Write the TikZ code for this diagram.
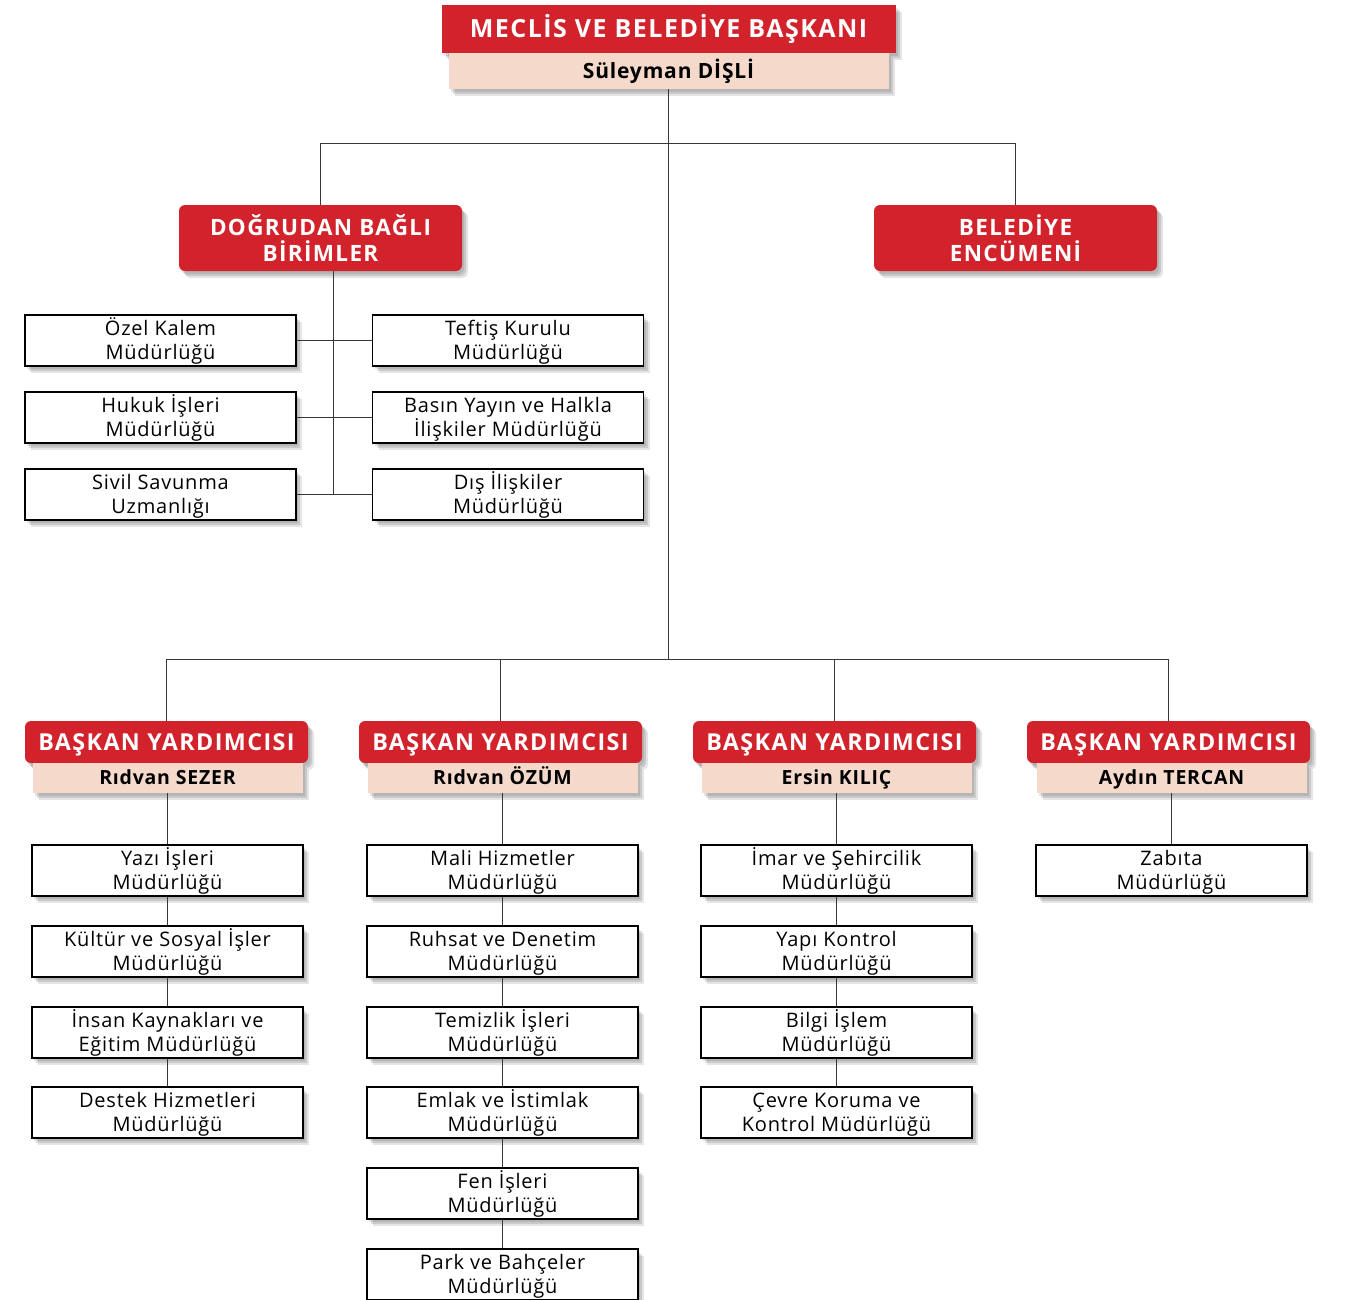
\documentclass[tikz,border=0pt]{standalone}
\usepackage{fontspec}
\setmainfont{Open Sans}[LetterSpace=4]
\usetikzlibrary{shadows}
\definecolor{rd}{RGB}{210,35,44}
\definecolor{pk}{RGB}{245,218,204}
\definecolor{ln}{RGB}{55,55,55}
\newcommand{\fl}{\vphantom{İÇg}}
\begin{document}
\begin{tikzpicture}[x=1pt,y=-1pt,
  shd/.style={
    drop shadow={opacity=0.10,shadow xshift=2pt,shadow yshift=-3pt,fill=black},
    drop shadow={opacity=0.12,shadow xshift=4pt,shadow yshift=-5pt,fill=black},
    drop shadow={opacity=0.10,shadow xshift=6pt,shadow yshift=-7pt,fill=black}},
  bosshead/.style={shd,fill=rd,text=white,inner sep=0pt,font=\fontsize{25}{28}\selectfont\bfseries\addfontfeatures{LetterSpace=6},text height=17.5pt,text depth=0pt,minimum width=454pt,minimum height=48pt},
  bossname/.style={shd,fill=pk,text=black,inner sep=0pt,font=\fontsize{21}{24}\selectfont\bfseries,text height=15pt,text depth=0pt,minimum width=440pt,minimum height=36pt},
  redbox/.style={shd,fill=rd,text=white,inner sep=0pt,rounded corners=6pt,align=center,font=\fontsize{22.5}{26}\selectfont\bfseries\addfontfeatures{LetterSpace=6},minimum width=283pt,minimum height=66pt},
  vphead/.style={shd,fill=rd,text=white,inner sep=0pt,rounded corners=6pt,font=\fontsize{23.3}{26}\selectfont\bfseries\addfontfeatures{LetterSpace=6},text height=16.6pt,text depth=0pt,minimum width=283pt,minimum height=42pt},
  vpname/.style={shd,fill=pk,text=black,inner sep=0pt,font=\fontsize{19.5}{22}\selectfont\bfseries,text height=14pt,text depth=0pt,minimum width=270pt,minimum height=30pt},
  unit/.style={shd,fill=white,draw=black,line width=1.1pt,inner sep=0pt,align=center,font=\fontsize{20}{24}\selectfont,minimum width=271pt,minimum height=51pt},
  conn/.style={draw=ln,line width=1.2pt}
]
\useasboundingbox (0,0) rectangle (1351,1299);

% junction coordinates
\coordinate (j1) at (668.5,143.5);
\coordinate (j2) at (668.5,659.5);
\coordinate (dtop) at (333.5,271);
\coordinate (dbot) at (333.5,494.5);

% top
\node[bosshead] (bossh) at (668.5,29) {MECLİS VE BELEDİYE BAŞKANI};
\node[bossname] (bossn) at (668.5,71) {Süleyman DİŞLİ};

% second level
\node[redbox] (dog) at (320.5,238) {DOĞRUDAN BAĞLI\\BİRİMLER};
\node[redbox] (enc) at (1015.5,238) {BELEDİYE\\ENCÜMENİ};

% directly attached units
\node[unit] (ozel) at (160.5,340.5) {\fl Özel Kalem\\Müdürlüğü};
\node[unit] (hukuk) at (160.5,417.5) {\fl Hukuk İşleri\\Müdürlüğü};
\node[unit] (sivil) at (160.5,494.5) {\fl Sivil Savunma\\Uzmanlığı};
\node[unit] (teftis) at (508,340.5) {\fl Teftiş Kurulu\\Müdürlüğü};
\node[unit] (basin) at (508,417.5) {\fl Basın Yayın ve Halkla\\İlişkiler Müdürlüğü};
\node[unit] (dis) at (508,494.5) {\fl Dış İlişkiler\\Müdürlüğü};

% deputy mayors
\node[vphead] (vp1) at (166.5,742) {BAŞKAN YARDIMCISI};
\node[vpname] (vp1n) at (167.5,777.5) {Rıdvan SEZER};
\node[vphead] (vp2) at (500.5,742) {BAŞKAN YARDIMCISI};
\node[vpname] (vp2n) at (502.5,777.5) {Rıdvan ÖZÜM};
\node[vphead] (vp3) at (834.5,742) {BAŞKAN YARDIMCISI};
\node[vpname] (vp3n) at (836.5,777.5) {Ersin KILIÇ};
\node[vphead] (vp4) at (1168.5,742) {BAŞKAN YARDIMCISI};
\node[vpname] (vp4n) at (1171.5,777.5) {Aydın TERCAN};

% column 1
\node[unit] (a1) at (167.5,870.5) {\fl Yazı İşleri\\Müdürlüğü};
\node[unit] (a2) at (167.5,951.5) {\fl Kültür ve Sosyal İşler\\Müdürlüğü};
\node[unit] (a3) at (167.5,1032.5) {\fl İnsan Kaynakları ve\\Eğitim Müdürlüğü};
\node[unit] (a4) at (167.5,1112.5) {\fl Destek Hizmetleri\\Müdürlüğü};

% column 2
\node[unit] (b1) at (502.5,870.5) {\fl Mali Hizmetler\\Müdürlüğü};
\node[unit] (b2) at (502.5,951.5) {\fl Ruhsat ve Denetim\\Müdürlüğü};
\node[unit] (b3) at (502.5,1032.5) {\fl Temizlik İşleri\\Müdürlüğü};
\node[unit] (b4) at (502.5,1112.5) {\fl Emlak ve İstimlak\\Müdürlüğü};
\node[unit] (b5) at (502.5,1193.5) {\fl Fen İşleri\\Müdürlüğü};
\node[unit] (b6) at (502.5,1274.5) {\fl Park ve Bahçeler\\Müdürlüğü};

% column 3
\node[unit] (c1) at (836.5,870.5) {\fl İmar ve Şehircilik\\Müdürlüğü};
\node[unit] (c2) at (836.5,951.5) {\fl Yapı Kontrol\\Müdürlüğü};
\node[unit] (c3) at (836.5,1032.5) {\fl Bilgi İşlem\\Müdürlüğü};
\node[unit] (c4) at (836.5,1112.5) {\fl Çevre Koruma ve\\Kontrol Müdürlüğü};

% column 4
\node[unit] (d1) at (1171.5,870.5) {\fl Zabıta\\Müdürlüğü};

% connectors
\draw[conn] (bossn.south) -- (j2);
\draw[conn] (dog.north) |- (j1) -| (enc.north);
\draw[conn] (dtop) -- (dbot);
\draw[conn] (vp1.north) |- (j2) -| (vp4.north);
\draw[conn] (vp2.north) -- (vp2.north |- j2);
\draw[conn] (vp3.north) -- (vp3.north |- j2);
\draw[conn] (ozel.east) -- (teftis.west);
\draw[conn] (hukuk.east) -- (basin.west);
\draw[conn] (sivil.east) -- (dis.west);
\draw[conn] (vp1n.south) -- (a1.north);
\draw[conn] (a1.south) -- (a2.north);
\draw[conn] (a2.south) -- (a3.north);
\draw[conn] (a3.south) -- (a4.north);
\draw[conn] (vp2n.south) -- (b1.north);
\draw[conn] (b1.south) -- (b2.north);
\draw[conn] (b2.south) -- (b3.north);
\draw[conn] (b3.south) -- (b4.north);
\draw[conn] (b4.south) -- (b5.north);
\draw[conn] (b5.south) -- (b6.north);
\draw[conn] (vp3n.south) -- (c1.north);
\draw[conn] (c1.south) -- (c2.north);
\draw[conn] (c2.south) -- (c3.north);
\draw[conn] (c3.south) -- (c4.north);
\draw[conn] (vp4n.south) -- (d1.north);
\end{tikzpicture}
\end{document}
